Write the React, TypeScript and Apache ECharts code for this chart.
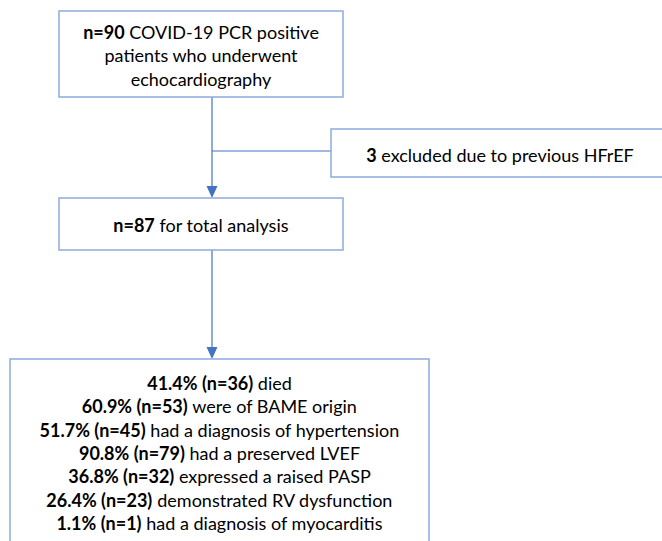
import React, { useEffect, useRef } from "react";
import * as echarts from "echarts";

// Flowchart content
const topBoxLines: [string, string][] = [
  ["n=90", " COVID-19 PCR positive"],
  ["", "patients who underwent"],
  ["", "echocardiography"],
];
const excludedLines: [string, string][] = [["3", " excluded due to previous HFrEF"]];
const analysisLines: [string, string][] = [["n=87", " for total analysis"]];
const outcomePercents = ["41.4%", "60.9%", "51.7%", "90.8%", "36.8%", "26.4%", "1.1%"];
const outcomeCounts = [36, 53, 45, 79, 32, 23, 1];
const outcomeLabels = [
  "died",
  "were of BAME origin",
  "had a diagnosis of hypertension",
  "had a preserved LVEF",
  "expressed a raised PASP",
  "demonstrated RV dysfunction",
  "had a diagnosis of myocarditis",
];

const FONT = "Lato, 'Open Sans', sans-serif";
const FS = 18;
const LH = 23.3;
const BORDER = "#8eaadb";
const CONNECT = "#4472c4";

function textLines(lines: [string, string][], cx: number, cy0: number) {
  return lines.map(([b, n], i) => ({
    type: "text",
    x: cx,
    y: cy0 + i * LH,
    style: {
      text: (b ? `{b|${b}}` : "") + `{n|${n}}`,
      align: "center",
      verticalAlign: "middle",
      fontFamily: FONT,
      fontSize: FS,
      fill: "#000",
      rich: {
        b: { fontWeight: "bold", fontFamily: FONT, fontSize: FS, fill: "#000" },
        n: { fontWeight: "normal", fontFamily: FONT, fontSize: FS, fill: "#000" },
      },
    },
  }));
}

function box(x: number, y: number, w: number, h: number) {
  return {
    type: "rect",
    shape: { x, y, width: w, height: h },
    style: { fill: "#fff", stroke: BORDER, lineWidth: 1.5 },
  };
}

function line(x1: number, y1: number, x2: number, y2: number) {
  return {
    type: "line",
    shape: { x1, y1, x2, y2 },
    style: { stroke: CONNECT, lineWidth: 1.2 },
  };
}

function arrow(x: number, tipY: number) {
  return {
    type: "polygon",
    shape: { points: [[x - 5.5, tipY - 12], [x + 5.5, tipY - 12], [x, tipY]] },
    style: { fill: CONNECT },
  };
}

export default function App() {
  const ref = useRef<HTMLDivElement>(null);
  useEffect(() => {
    if (!ref.current) return;
    const chart = echarts.init(ref.current, undefined, { renderer: "svg" });
    const outcomeLines: [string, string][] = outcomePercents.map((p, i) => [
      `${p} (n=${outcomeCounts[i]})`,
      ` ${outcomeLabels[i]}`,
    ]);
    const lx = 212;
    chart.setOption({
      animation: false,
      backgroundColor: "#fff",
      graphic: [
        line(lx, 97, lx, 188),
        line(lx, 151, 331, 151),
        line(lx, 250, lx, 349),
        arrow(lx, 198),
        arrow(lx, 359),
        box(59, 11, 284, 86),
        box(331, 129, 340, 48),
        box(59, 198, 284, 52),
        box(10, 359, 419, 200),
        ...textLines(topBoxLines, 201, 32),
        ...textLines(excludedLines, 500, 155),
        ...textLines(analysisLines, 201, 225),
        ...textLines(outcomeLines, 219.5, 383),
      ],
    });
    return () => chart.dispose();
  }, []);
  return (
    <div
      ref={ref}
      style={{ position: "fixed", left: 0, top: 0, width: 662, height: 541, background: "#fff" }}
    />
  );
}
